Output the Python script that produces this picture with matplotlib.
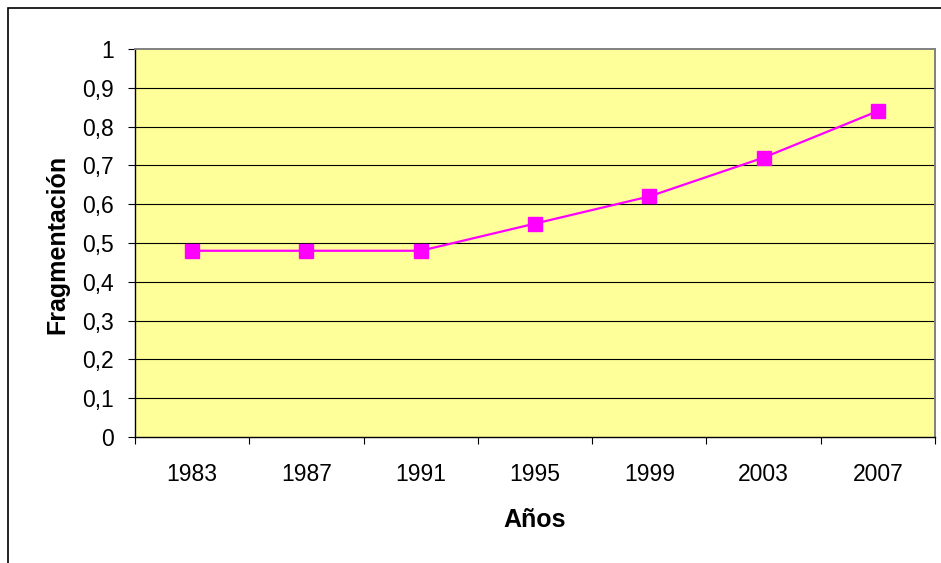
import matplotlib
matplotlib.use("Agg")
import matplotlib.pyplot as plt
from matplotlib.patches import Rectangle

years = ["1983", "1987", "1991", "1995", "1999", "2003", "2007"]
fragmentacion = [0.48, 0.48, 0.48, 0.55, 0.62, 0.72, 0.84]
yticks = [0, 0.1, 0.2, 0.3, 0.4, 0.5, 0.6, 0.7, 0.8, 0.9, 1]

plt.rcParams['font.family'] = ['Liberation Sans', 'DejaVu Sans']

fig = plt.figure(figsize=(9.41, 5.63), dpi=100)
# outer chart border (only left and top edges visible)
fig.patches.append(Rectangle((8/941, -0.1), 2.0, 1 - 8/563 + 0.1, transform=fig.transFigure,
                             fill=False, edgecolor='#000000', linewidth=1.2))

ax = fig.add_axes([135/941, (563-437)/563, 800/941, 388/563])
ax.set_facecolor('#FFFF99')

x = list(range(len(years)))
ax.plot(x, fragmentacion, color='#FF00FF', linewidth=1.6, marker='s',
        markersize=9.5, markerfacecolor='#FF00FF', markeredgecolor='#FF00FF', zorder=3)

ax.set_ylim(0, 1)
ax.set_xlim(-0.5, len(years) - 0.5)
ax.set_yticks(yticks)
ax.set_yticklabels([("%g" % v).replace('.', ',') for v in yticks], fontsize=16.5)
for v in yticks[1:-1]:
    ax.axhline(v, color='#000000', linewidth=0.8, zorder=1)

# category labels centered, ticks between categories
ax.set_xticks(x)
ax.set_xticklabels(years, fontsize=16.5)
ax.tick_params(axis='x', which='major', length=0, pad=19)
ax.set_xticks([i - 0.5 for i in range(len(years) + 1)], minor=True)
ax.tick_params(axis='x', which='minor', length=5, direction='out', width=0.8)
ax.tick_params(axis='y', length=5, direction='out', width=0.8, pad=10)

for side in ['top', 'right']:
    ax.spines[side].set_color('#808080')
    ax.spines[side].set_linewidth(1.4)
for side in ['left', 'bottom']:
    ax.spines[side].set_color('#000000')
    ax.spines[side].set_linewidth(1.0)

fig.text(57/941, 1 - 244/563, 'Fragmentación', rotation=90, fontsize=18,
         fontweight='bold', ha='center', va='center')
fig.text(535/941, 1 - 520/563, 'Años', fontsize=18, fontweight='bold',
         ha='center', va='center')

fig.savefig('out.png', dpi=100)
